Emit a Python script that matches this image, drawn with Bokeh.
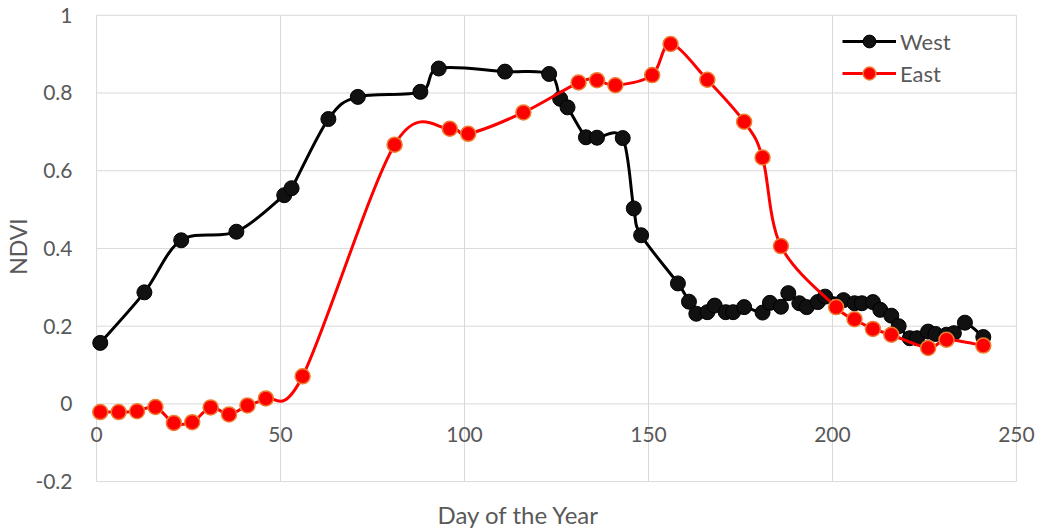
from bokeh.plotting import figure
from bokeh.models import (Range1d, FixedTicker, CustomJSTickFormatter, Legend, LegendItem,
                          Title, ColumnDataSource)
from bokeh.embed import file_html
from bokeh.resources import INLINE

# ---------------- data ----------------
west_day = [1, 13, 23, 38, 51, 53, 63, 71, 88, 93, 111, 123, 126, 128, 133, 136, 143, 146, 148,
            158, 161, 163, 166, 168, 171, 173, 176, 181, 183, 186, 188, 191, 193, 196, 198,
            203, 206, 208, 211, 213, 216, 218, 221, 223, 226, 228, 231, 233, 236, 241]
west_ndvi = [0.157, 0.287, 0.421, 0.443, 0.537, 0.555, 0.733, 0.790, 0.803, 0.863, 0.855, 0.849,
             0.785, 0.763, 0.686, 0.685, 0.684, 0.503, 0.434, 0.310, 0.263, 0.232, 0.236, 0.253,
             0.236, 0.236, 0.249, 0.235, 0.260, 0.250, 0.285, 0.259, 0.249, 0.262, 0.276,
             0.267, 0.259, 0.259, 0.262, 0.242, 0.227, 0.200, 0.169, 0.169, 0.186, 0.180,
             0.178, 0.182, 0.209, 0.172]

east_day = [1, 6, 11, 16, 21, 26, 31, 36, 41, 46, 56, 81, 96, 101, 116, 131, 136, 141, 151, 156,
            166, 176, 181, 186, 201, 206, 211, 216, 226, 231, 241]
east_ndvi = [-0.021, -0.021, -0.019, -0.008, -0.049, -0.047, -0.009, -0.027, -0.004, 0.014,
             0.071, 0.667, 0.708, 0.695, 0.750, 0.827, 0.833, 0.820, 0.846, 0.926, 0.834,
             0.726, 0.634, 0.406, 0.249, 0.218, 0.193, 0.178, 0.144, 0.165, 0.150]

x_ticks = [0, 50, 100, 150, 200, 250]
y_ticks = [-0.2, 0, 0.2, 0.4, 0.6, 0.8, 1.0]

FONT = "Lato"
TXT = "#595959"
GRID = "#d9d9d9"


def smooth_segments(xs, ys):
    """Cubic Bezier control points for an Excel-like smoothed line through the data."""
    n = len(xs)
    d = dict(x0=[], y0=[], x1=[], y1=[], cx0=[], cy0=[], cx1=[], cy1=[])
    for i in range(n - 1):
        p0 = (xs[max(i - 1, 0)], ys[max(i - 1, 0)])
        p1 = (xs[i], ys[i])
        p2 = (xs[i + 1], ys[i + 1])
        p3 = (xs[min(i + 2, n - 1)], ys[min(i + 2, n - 1)])
        d["x0"].append(p1[0]); d["y0"].append(p1[1])
        d["x1"].append(p2[0]); d["y1"].append(p2[1])
        d["cx0"].append(p1[0] + (p2[0] - p0[0]) / 6.0)
        d["cy0"].append(p1[1] + (p2[1] - p0[1]) / 6.0)
        d["cx1"].append(p2[0] - (p3[0] - p1[0]) / 6.0)
        d["cy1"].append(p2[1] - (p3[1] - p1[1]) / 6.0)
    return ColumnDataSource(d)


# frame is a little larger than the 0..250 x -0.2..1 box so edge tick labels are not clipped
p = figure(width=1040, height=528, output_backend="svg", toolbar_location=None,
           x_range=Range1d(-6, 256), y_range=Range1d(-0.21, 1.02),
           min_border_left=74, min_border_right=2, min_border_top=7, min_border_bottom=42)
p.background_fill_color = "white"
p.border_fill_color = "white"
p.outline_line_color = None
p.grid.visible = False

fmt = CustomJSTickFormatter(code="return (Math.round(tick*10)/10).toString();")

# plot-area grid (bounded to the 0..250 / -0.2..1 box)
p.segment(x0=x_ticks, y0=[y_ticks[0]] * len(x_ticks), x1=x_ticks, y1=[y_ticks[-1]] * len(x_ticks),
          line_color=GRID, line_width=1)
p.segment(x0=[x_ticks[0]] * len(y_ticks), y0=y_ticks, x1=[x_ticks[-1]] * len(y_ticks), y1=y_ticks,
          line_color=GRID, line_width=1)

# x axis crossing at y = 0
xa = p.xaxis[0]
xa.ticker = FixedTicker(ticks=x_ticks)
xa.formatter = fmt
xa.fixed_location = 0
xa.axis_line_color = None
xa.major_tick_line_color = None
xa.minor_tick_line_color = None
xa.major_tick_out = 0
xa.major_tick_in = 0
xa.major_label_standoff = 23
xa.major_label_text_font = FONT
xa.major_label_text_font_size = "21px"
xa.major_label_text_color = TXT

ya = p.yaxis[0]
ya.ticker = FixedTicker(ticks=y_ticks)
ya.formatter = fmt
ya.axis_line_color = None
ya.major_tick_line_color = None
ya.minor_tick_line_color = None
ya.major_tick_out = 0
ya.major_tick_in = 0
ya.major_label_standoff = 2
ya.major_label_text_font = FONT
ya.major_label_text_font_size = "21px"
ya.major_label_text_color = TXT
ya.axis_label = "NDVI"
ya.axis_label_text_font = FONT
ya.axis_label_text_font_size = "23px"
ya.axis_label_text_font_style = "normal"
ya.axis_label_text_color = TXT
ya.axis_label_standoff = 0

# spacer between plot area and the x-axis title
spacer = Title(text=" ", text_font=FONT, text_font_size="1px", standoff=9)
p.add_layout(spacer, "below")
# x-axis title, centred on the whole chart (as in the reference)
xt = Title(text="Day of the Year", align="left", offset=363, text_font=FONT,
           text_font_size="24px", text_font_style="normal", text_color=TXT, standoff=0)
p.add_layout(xt, "below")

# West series
w_line = p.bezier(x0="x0", y0="y0", x1="x1", y1="y1", cx0="cx0", cy0="cy0", cx1="cx1", cy1="cy1",
                  source=smooth_segments(west_day, west_ndvi), line_color="black", line_width=3)
w_pts = p.scatter(west_day, west_ndvi, size=15, fill_color="#111111", line_color="black",
                  line_width=1)

# East series
e_line = p.bezier(x0="x0", y0="y0", x1="x1", y1="y1", cx0="cx0", cy0="cy0", cx1="cx1", cy1="cy1",
                  source=smooth_segments(east_day, east_ndvi), line_color="#ff0000", line_width=3)
e_pts = p.scatter(east_day, east_ndvi, size=15, fill_color="#ff0000", line_color="#ED7D31",
                  line_width=1.5)

legend = Legend(items=[LegendItem(label="West", renderers=[w_line, w_pts]),
                       LegendItem(label="East", renderers=[e_line, e_pts])],
                location=(768, 396), orientation="vertical",
                glyph_width=54, glyph_height=32, label_height=32, spacing=0, padding=0,
                margin=0, label_standoff=4,
                label_text_font=FONT, label_text_font_size="22px", label_text_color=TXT,
                border_line_color=None, background_fill_alpha=0)
p.add_layout(legend, "center")

open("out.html", "w").write(file_html(p, INLINE))
